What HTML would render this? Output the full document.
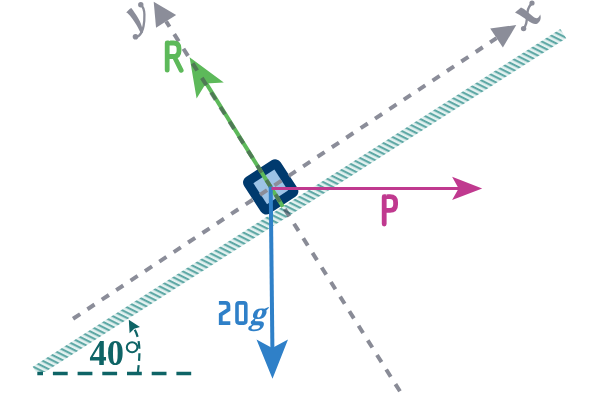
<!DOCTYPE html>
<html><head><meta charset="utf-8">
<style>
html,body{margin:0;padding:0;background:#fff;}
svg{display:block;will-change:transform;}
text{font-family:"Liberation Serif",serif;}
</style></head>
<body>
<svg width="600" height="400" viewBox="0 0 600 400">
<defs>
<pattern id="hatch" patternUnits="userSpaceOnUse" width="20" height="4.76" patternTransform="rotate(59.3)">
<rect x="0" y="0" width="20" height="4.76" fill="#e4f2f1"/>
<rect x="0" y="0" width="20" height="2.15" fill="#5ea8a5"/>
</pattern>
</defs>
<!-- incline band -->
<clipPath id="bclip"><rect x="0" y="0" width="600" height="372"/></clipPath>
<g clip-path="url(#bclip)"><g transform="translate(35.2 371.9) rotate(-32.64)">
<rect x="0.6" y="-5.6" width="626.6" height="11" fill="url(#hatch)"/>
</g></g>
<!-- block -->
<g transform="translate(270.7 186.9) rotate(-33)">
<rect x="-21.8" y="-21.8" width="43.6" height="43.6" rx="6.5" fill="#003a6e"/>
<rect x="-12.5" y="-12.5" width="25" height="25" fill="#9dc3e6"/>
</g>
<!-- x axis -->
<line x1="73.06" y1="318.75" x2="496.5" y2="38.2" stroke="#8b8d99" stroke-width="4" stroke-dasharray="8.5 8.75"/>
<polygon points="516.25,25 490.2,28.6 502.9,47.6" fill="#8b8d99"/>
<!-- y axis (gray, under green) -->
<line x1="399.97" y1="391.29" x2="166.1" y2="21.35" stroke="rgba(58,62,80,0.6)" stroke-width="4" stroke-dasharray="8.5 8.75"/>
<polygon points="153.7,1.8 176.15,14.98 156.05,27.72" fill="#8b8d99"/>
<!-- green R -->
<clipPath id="gclip"><polygon points="284.70,205.74 207.70,81.94 204.30,84.06 281.30,207.86"/><polygon points="189.6,57.25 223.8,82.6 205.8,83.45 196.6,98.4"/></clipPath>
<polygon points="284.70,205.74 207.70,81.94 204.30,84.06 281.30,207.86" fill="#5db95a"/>
<polygon points="189.6,57.25 223.8,82.6 205.8,83.45 196.6,98.4" fill="#5db95a"/>
<line x1="399.97" y1="391.29" x2="166.1" y2="21.35" stroke="#4f7a55" stroke-width="4" stroke-dasharray="8.5 8.75" clip-path="url(#gclip)"/>
<!-- blue -->
<line x1="270.7" y1="186.5" x2="272.4" y2="350" stroke="#2f80c8" stroke-width="4"/>
<polygon points="272.5,378.8 256.5,339.5 272.2,347.9 288,339.5" fill="#2f80c8"/>
<!-- magenta -->
<line x1="271.5" y1="188.4" x2="459" y2="188.4" stroke="#c0398f" stroke-width="3"/>
<polygon points="482.2,188.4 452.1,176.8 458.6,188.4 452.1,200.1" fill="#c0398f"/>
<!-- angle -->
<line x1="37.3" y1="373.5" x2="191.5" y2="373.5" stroke="#0e6466" stroke-width="3.6" stroke-dasharray="14.8 9.9" stroke-dashoffset="9.1"/>
<path d="M134.2,328.8 C138.3,335.5 139.6,344.5 139.4,353.5 C139.3,361 138.4,367 137.8,373.5" fill="none" stroke="#0e6466" stroke-width="2.2" stroke-dasharray="7.6 4.4" stroke-dashoffset="-1.2"/>
<polygon points="128.8,319.8 140,327 134.2,328.8 129.6,333.2" fill="#0e6466"/>
<text transform="translate(89.6 365) scale(0.955 1)" font-size="36" font-weight="bold" fill="#0e6466">40</text>
<ellipse cx="132.1" cy="347.2" rx="5.3" ry="4.95" fill="none" stroke="#0e6466" stroke-width="2"/>
<!-- R -->
<path d="M167.2,70.2 V43 H173.5 Q179,43 179,48.5 V51 Q179,56.5 173.5,56.5 H167.2 M174.5,57 L181.2,70.3" fill="none" stroke="#5db95a" stroke-width="4.8" stroke-linecap="round" stroke-linejoin="round"/>
<!-- P -->
<path d="M384.2,224.1 V196.7 H390 Q395.6,196.7 395.6,202.3 V204.5 Q395.6,210.3 390,210.3 H384.2" fill="none" stroke="#c0398f" stroke-width="4.8" stroke-linecap="round" stroke-linejoin="round"/>
<path d="M168.6,40.2 Q169.3,41.9 170.4,40.2 Z" fill="#fff"/>
<path d="M385.6,194.4 Q386.3,196.1 387.4,194.4 Z" fill="#fff"/>
<!-- 20 -->
<path d="M218.9,302.9 H225.5 Q228.45,302.9 228.45,305.9 V309.6 L220.75,314.6 V323.1 H230.3" fill="none" stroke="#2f80c8" stroke-width="3.8"/>
<rect x="237" y="302.9" width="8.8" height="20.2" rx="2" fill="none" stroke="#2f80c8" stroke-width="3.6"/>
<text transform="translate(248.7 324.3) skewX(-18) scale(1.05 1.1)" font-size="30" font-weight="bold" fill="#2f80c8">g</text>
<!-- x, y labels -->
<g fill="#8b8d99">
<path d="M126.2,12.4 C127.8,10.6 129.5,8.9 131.3,7.9 C134,11.5 136,14.5 137.5,16.9 C139.5,20 141,23.5 141.8,26.5 L142.8,32.8 L141.2,34 C140,31.5 138.5,28.5 136.5,25 C134.5,21.5 131,16 127.4,12.9 Z"/>
<path d="M140.8,5 C143,6.5 144.3,10 144.4,14.6 C144.5,19 144.2,23 143.6,25.8 C143,29.5 141.5,33.5 138.8,35.8 C137.8,36.6 136.5,37 135.5,37.1" fill="none" stroke="#8b8d99" stroke-width="2.3"/>
<circle cx="140.8" cy="4.8" r="2.7"/><circle cx="135.5" cy="36.8" r="2.8"/>
<path d="M515,12.5 L521,7.5 C525,9 529,13.5 533,16.5 C535,18 537,18.8 538.3,17.5 C539.3,16.5 539.8,15.5 540.2,14.6 C541.3,17.5 540.8,21.5 537.5,23.5 C535,25 532,23.5 529.5,21.8 C525.5,19 521,15.5 515,12.5 Z"/>
<path d="M532,3.5 C529.5,5.5 528,8.5 527.5,12 C527,16 527,21 526,24 C525.5,26 524.5,27.5 523.5,28.5" fill="none" stroke="#8b8d99" stroke-width="2.4"/>
<circle cx="532" cy="3" r="2.6"/><circle cx="523.6" cy="28.6" r="2.7"/>
</g>
</svg>
</body></html>
